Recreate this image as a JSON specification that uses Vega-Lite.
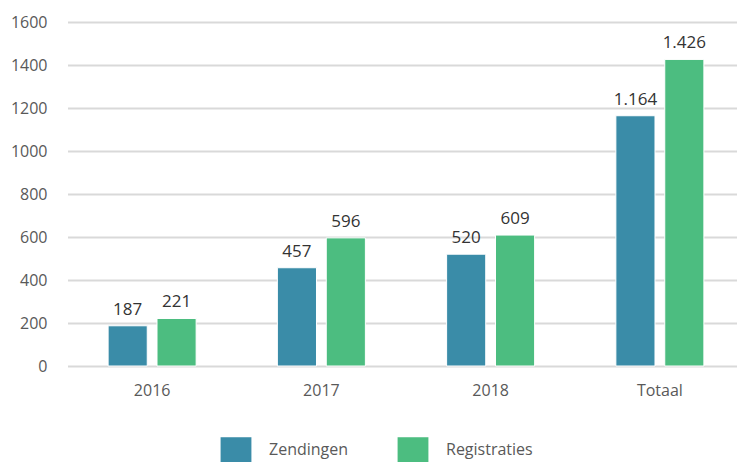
{
  "$schema": "https://vega.github.io/schema/vega-lite/v6.json",
  "width": 672,
  "height": 344,
  "autosize": {"type": "none"},
  "padding": {"left": 65, "top": 22, "right": 0, "bottom": 96},
  "background": "white",
  "config": {
    "view": {"stroke": null},
    "font": "Open Sans",
    "locale": {"number": {"decimal": ",", "thousands": ".", "grouping": [3], "currency": ["€", ""]}}
  },
  "data": {
    "values": [
      {"jaar": "2016", "serie": "Zendingen", "aantal": 187},
      {"jaar": "2016", "serie": "Registraties", "aantal": 221},
      {"jaar": "2017", "serie": "Zendingen", "aantal": 457},
      {"jaar": "2017", "serie": "Registraties", "aantal": 596},
      {"jaar": "2018", "serie": "Zendingen", "aantal": 520},
      {"jaar": "2018", "serie": "Registraties", "aantal": 609},
      {"jaar": "Totaal", "serie": "Zendingen", "aantal": 1164},
      {"jaar": "Totaal", "serie": "Registraties", "aantal": 1426}
    ]
  },
  "encoding": {
    "x": {
      "field": "jaar", "type": "nominal", "sort": null,
      "scale": {"paddingInner": 0.48, "paddingOuter": 0.24, "range": [2.5, 679.5]},
      "axis": {"title": null, "labelAngle": 0, "domain": false, "ticks": false, "labelPadding": 16, "labelFontSize": 16, "labelColor": "#595959", "grid": false}
    },
    "xOffset": {
      "field": "serie", "type": "nominal", "sort": ["Zendingen", "Registraties"],
      "scale": {"paddingInner": 0.2, "paddingOuter": 0}
    },
    "y": {
      "field": "aantal", "type": "quantitative",
      "scale": {"domain": [0, 1600], "nice": false},
      "axis": {"title": null, "values": [0, 200, 400, 600, 800, 1000, 1200, 1400, 1600], "format": "d", "domain": false, "ticks": false, "labelPadding": 18, "labelFontSize": 16, "labelColor": "#595959", "gridColor": "#d9d9d9", "gridWidth": 2}
    }
  },
  "layer": [
    {
      "mark": {"type": "bar", "stroke": "white", "strokeWidth": 1},
      "encoding": {
        "color": {
          "field": "serie", "type": "nominal", "sort": ["Zendingen", "Registraties"],
          "scale": {"domain": ["Zendingen", "Registraties"], "range": ["#3a8ca8", "#4cbd80"]},
          "legend": {
            "title": null, "orient": "none", "direction": "horizontal",
            "legendX": 158, "legendY": 415,
            "symbolType": "M-1.2,-1L1.2,-1L1.2,1L-1.2,1Z", "symbolSize": 660, "symbolStrokeWidth": 0,
            "labelFontSize": 16, "labelColor": "#595959", "labelOffset": 20, "columnPadding": 48
          }
        }
      }
    },
    {
      "mark": {"type": "text", "baseline": "bottom", "dy": -7, "fontSize": 17, "color": "#333333"},
      "encoding": {"text": {"field": "aantal", "type": "quantitative", "format": ",d"}}
    }
  ]
}
